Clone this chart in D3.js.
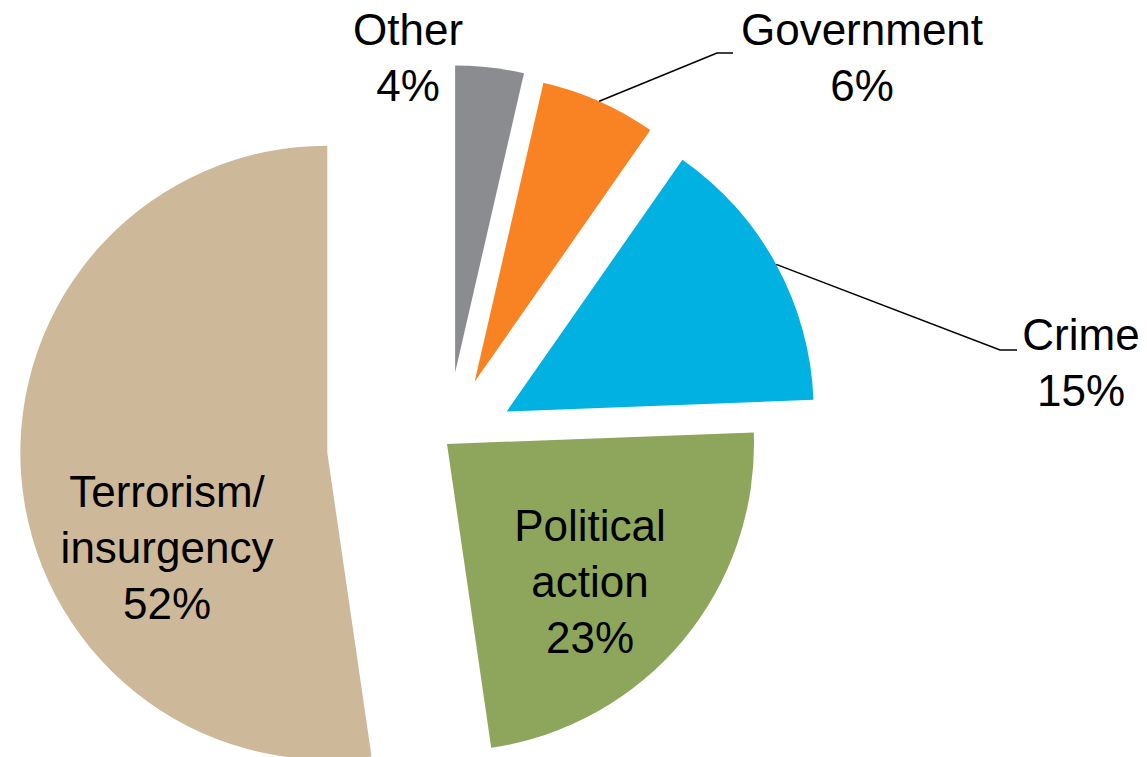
<!DOCTYPE html>
<html>
<head>
<meta charset="utf-8">
<script src="https://cdn.jsdelivr.net/npm/d3@7"></script>
<style>
  body { margin: 0; background: #fff; }
  svg { display: block; }
  text { font-family: "Liberation Sans", Arial, sans-serif; fill: #000; }
</style>
</head>
<body>
<script>
// slice data, clockwise from 12 o'clock
var categories = ["Other", "Government", "Crime", "Political action", "Terrorism/insurgency"];
var shares = [3.6, 6.1, 14.7, 23.3, 52.3];
var labelLines = [["Other"], ["Government"], ["Crime"], ["Political", "action"], ["Terrorism/", "insurgency"]];

var colors = ["#8b8c8f", "#f98323", "#00b1e1", "#8ea65b", "#cdb99a"];

// layout: explode distance per slice, label anchor (first baseline), leader elbow
var explode = [72, 68, 68, 0, 120];
var labelPos = [[408, 45], [862, 45], [1081, 350], [590, 541], [167, 507]];
var leaders = [null, [[717, 53], [733, 53]], [[1000, 350], [1017, 350]], null, null];

var width = 1147, height = 757,
    radius = 307,
    cx = 447, cy = 444,
    lineH = 56;

var svg = d3.select("body").append("svg")
    .attr("width", width)
    .attr("height", height)
  .append("g")
    .attr("transform", "translate(" + cx + "," + cy + ")");

var pie = d3.pie().sort(null).value(function(d) { return d.value; });

var arc = d3.arc().innerRadius(0).outerRadius(radius);

var data = categories.map(function(c, i) {
  return {name: c, value: shares[i], i: i};
});

var arcs = pie(data);

function offset(d) {
  var a = (d.startAngle + d.endAngle) / 2, k = explode[d.data.i];
  return [Math.sin(a) * k, -Math.cos(a) * k];
}

svg.selectAll("path.slice")
    .data(arcs)
  .enter().append("path")
    .attr("class", "slice")
    .attr("d", arc)
    .attr("transform", function(d) { return "translate(" + offset(d) + ")"; })
    .style("fill", function(d) { return colors[d.data.i]; });

// leader lines from the outer edge at mid angle to the label
svg.selectAll("path.leader")
    .data(arcs.filter(function(d) { return leaders[d.data.i]; }))
  .enter().append("path")
    .attr("class", "leader")
    .attr("d", function(d) {
      var a = (d.startAngle + d.endAngle) / 2, o = offset(d);
      var pts = [[o[0] + Math.sin(a) * radius, o[1] - Math.cos(a) * radius]];
      leaders[d.data.i].forEach(function(p) { pts.push([p[0] - cx, p[1] - cy]); });
      return d3.line()(pts);
    })
    .style("fill", "none")
    .style("stroke", "#000")
    .style("stroke-width", 1.6);

var labels = d3.select("svg").selectAll("text.label")
    .data(arcs)
  .enter().append("text")
    .attr("class", "label")
    .attr("text-anchor", "middle")
    .style("font-size", "44px")
    .attr("transform", function(d) { return "translate(" + labelPos[d.data.i] + ")"; });

labels.each(function(d) {
  var lines = labelLines[d.data.i].concat([Math.round(d.data.value) + "%"]);
  d3.select(this).selectAll("tspan")
      .data(lines)
    .enter().append("tspan")
      .attr("x", 0)
      .attr("y", function(t, j) { return j * lineH; })
      .text(function(t) { return t; });
});
</script>
</body>
</html>
